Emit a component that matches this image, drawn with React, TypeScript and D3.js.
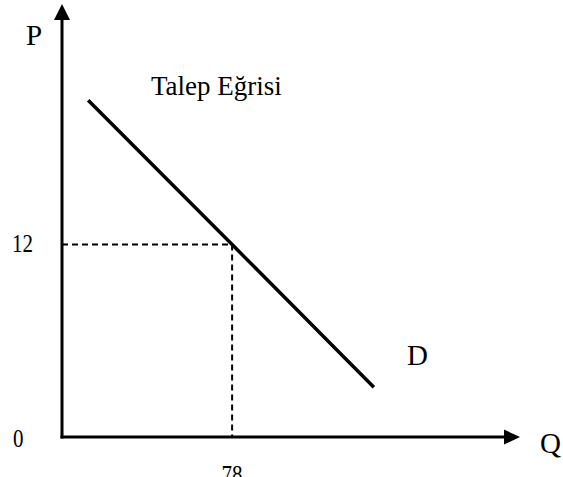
import React from "react";
import * as d3 from "d3";

const demandQ = [12, 78, 143];
const demandP = [21, 12, 3.1];
const markQ = 78;
const markP = 12;
const axisMaxQ = 210;
const axisMaxP = 27;
const tickLabels = { origin: "0", price: "12", quantity: "78" };
const axisLabels = { y: "P", x: "Q" };
const curveLabel = "Talep Eğrisi";
const curveName = "D";

const W = 563;
const H = 477;

function Label(props: { x: number; y: number; size: number; sy?: number; anchor?: string; children: React.ReactNode }) {
  const sy = props.sy ?? 1;
  return (
    <text
      transform={`translate(${props.x},${props.y}) scale(1,${sy})`}
      textAnchor={props.anchor || "start"}
      fontFamily="Liberation Serif, Times New Roman, serif"
      fontSize={props.size}
      fill="#000"
    >
      {props.children}
    </text>
  );
}

export default function App() {
  const x = d3.scaleLinear().domain([0, axisMaxQ]).range([62, 520]);
  const y = d3.scaleLinear().domain([0, axisMaxP]).range([437, 4]);
  const pts = demandQ.map((q, i) => [q, demandP[i]] as [number, number]);
  const line = d3
    .line<[number, number]>()
    .x((d) => x(d[0]))
    .y((d) => y(d[1]));
  const ox = x(0);
  const oy = y(0);
  const xEnd = x(axisMaxQ);
  const yEnd = y(axisMaxP);
  return (
    <svg
      width={W}
      height={H}
      style={{ position: "absolute", left: 0, top: 0, background: "#fff", overflow: "hidden" }}
    >
      {/* axes */}
      <line x1={ox} y1={oy + 1.5} x2={ox} y2={yEnd + 14} stroke="#000" strokeWidth={3} />
      <path d={`M${ox},${yEnd} L${ox - 8},${yEnd + 16} L${ox + 8},${yEnd + 16} Z`} fill="#000" />
      <line x1={ox - 1.5} y1={oy} x2={xEnd - 14} y2={oy} stroke="#000" strokeWidth={3} />
      <path d={`M${xEnd},${oy} L${xEnd - 16},${oy - 7.5} L${xEnd - 16},${oy + 7.5} Z`} fill="#000" />
      {/* dashed guides */}
      <line x1={ox} y1={y(markP)} x2={x(markQ)} y2={y(markP)} stroke="#000" strokeWidth={2} strokeDasharray="6,4" />
      <line x1={x(markQ)} y1={y(markP)} x2={x(markQ)} y2={oy} stroke="#000" strokeWidth={2} strokeDasharray="6,4" />
      {/* demand line */}
      <path d={line(pts) || ""} fill="none" stroke="#000" strokeWidth={3.5} />
      {/* labels */}
      <Label x={26} y={45} size={29}>{axisLabels.y}</Label>
      <Label x={540} y={453} size={29}>{axisLabels.x}</Label>
      <Label x={12} y={252} size={21} sy={1.2}>{tickLabels.price}</Label>
      <Label x={13} y={447} size={21} sy={1.2}>{tickLabels.origin}</Label>
      <Label x={x(markQ)} y={483} size={21} sy={1.2} anchor="middle">{tickLabels.quantity}</Label>
      <Label x={151} y={95} size={27} sy={1.05}>{curveLabel}</Label>
      <Label x={407} y={365} size={29}>{curveName}</Label>
    </svg>
  );
}
